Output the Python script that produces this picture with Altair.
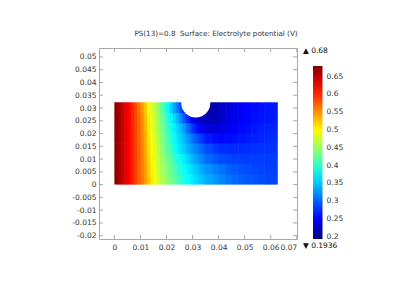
import math
import altair as alt
import pandas as pd

# ---------------- data ----------------
title_text = "PS(13)=0.8\u00a0 Surface: Electrolyte potential (V)"
x_ticks = [0, 0.01, 0.02, 0.03, 0.04, 0.05, 0.06, 0.07]
y_ticks = [-0.02, -0.015, -0.01, -0.005, 0, 0.005, 0.01, 0.015, 0.02,
           0.025, 0.03, 0.035, 0.04, 0.045, 0.05]
legend_ticks = [0.2, 0.25, 0.3, 0.35, 0.4, 0.45, 0.5, 0.55, 0.6, 0.65]
v_max = 0.68
v_min = 0.1936

# cell edges of the sampled grid (m): fine where the field changes fast
x_edges = [0.0, 0.00125, 0.0025, 0.00375, 0.005, 0.00625, 0.0075, 0.00875,
           0.01, 0.01125, 0.0125, 0.01375, 0.015, 0.01625, 0.0175, 0.01875,
           0.02, 0.02125, 0.0225, 0.02375, 0.025, 0.02625, 0.0275, 0.02875,
           0.03, 0.03125, 0.0325, 0.03375, 0.035,
           0.0375, 0.04, 0.0425, 0.045, 0.0475, 0.05, 0.0525, 0.055, 0.0575,
           0.06, 0.0625]
y_edges = [0.0, 0.004, 0.008, 0.012, 0.016, 0.020, 0.024, 0.028, 0.032]

# electrolyte potential (V), bottom row first, left to right (39 cells per row)
row_0 = [0.674, 0.661, 0.647, 0.633, 0.620, 0.606, 0.591, 0.576, 0.561, 0.544,
         0.525, 0.508, 0.492, 0.477, 0.463, 0.452, 0.442, 0.432, 0.421, 0.410,
         0.399, 0.389, 0.380, 0.372, 0.364, 0.357, 0.350, 0.344,
         0.336, 0.327, 0.318, 0.311, 0.305, 0.300, 0.296, 0.293, 0.290, 0.288, 0.287]
row_1 = [0.674, 0.661, 0.647, 0.633, 0.620, 0.606, 0.591, 0.575, 0.560, 0.543,
         0.523, 0.505, 0.488, 0.472, 0.458, 0.447, 0.436, 0.425, 0.413, 0.401,
         0.390, 0.380, 0.371, 0.362, 0.354, 0.346, 0.339, 0.332,
         0.325, 0.316, 0.308, 0.302, 0.297, 0.293, 0.290, 0.288, 0.287, 0.286, 0.285]
row_2 = [0.674, 0.661, 0.647, 0.633, 0.619, 0.605, 0.590, 0.574, 0.558, 0.540,
         0.520, 0.502, 0.485, 0.469, 0.454, 0.441, 0.428, 0.415, 0.401, 0.389,
         0.378, 0.367, 0.357, 0.347, 0.338, 0.329, 0.321, 0.313,
         0.305, 0.296, 0.290, 0.287, 0.285, 0.284, 0.283, 0.283, 0.283, 0.283, 0.283]
row_3 = [0.674, 0.661, 0.647, 0.633, 0.619, 0.605, 0.590, 0.574, 0.557, 0.538,
         0.517, 0.498, 0.481, 0.465, 0.448, 0.432, 0.417, 0.402, 0.386, 0.372,
         0.361, 0.351, 0.341, 0.331, 0.322, 0.314, 0.306, 0.298,
         0.290, 0.281, 0.276, 0.274, 0.274, 0.275, 0.276, 0.277, 0.278, 0.279, 0.279]
row_4 = [0.674, 0.661, 0.646, 0.632, 0.619, 0.604, 0.589, 0.572, 0.555, 0.536,
         0.513, 0.494, 0.477, 0.460, 0.443, 0.426, 0.410, 0.394, 0.378, 0.364,
         0.353, 0.341, 0.330, 0.317, 0.304, 0.293, 0.283, 0.274,
         0.266, 0.259, 0.257, 0.258, 0.261, 0.264, 0.267, 0.270, 0.272, 0.274, 0.275]
row_5 = [0.674, 0.661, 0.646, 0.632, 0.618, 0.603, 0.588, 0.571, 0.554, 0.533,
         0.509, 0.489, 0.472, 0.455, 0.438, 0.420, 0.402, 0.385, 0.370, 0.355,
         0.343, 0.327, 0.309, 0.291, 0.274, 0.260, 0.250, 0.243,
         0.238, 0.236, 0.240, 0.246, 0.252, 0.257, 0.261, 0.265, 0.268, 0.270, 0.271]
row_6 = [0.674, 0.661, 0.645, 0.631, 0.618, 0.603, 0.587, 0.570, 0.552, 0.530,
         0.506, 0.485, 0.468, 0.451, 0.433, 0.414, 0.394, 0.374, 0.357, 0.340,
         0.318, 0.295, 0.275, 0.258, 0.242, 0.232, 0.227, 0.224,
         0.222, 0.222, 0.230, 0.238, 0.245, 0.251, 0.256, 0.260, 0.263, 0.265, 0.266]
row_7 = [0.674, 0.661, 0.645, 0.631, 0.618, 0.602, 0.586, 0.566, 0.545, 0.524,
         0.500, 0.480, 0.464, 0.446, 0.424, 0.401, 0.378, 0.354, 0.333, 0.312,
         0.290, 0.260, 0.230, 0.210, 0.200, 0.200, 0.205, 0.210,
         0.212, 0.218, 0.228, 0.237, 0.244, 0.250, 0.255, 0.259, 0.262, 0.264, 0.265]
potential_rows = [row_0, row_1, row_2, row_3, row_4, row_5, row_6, row_7]

# semicircular cut in the top edge
hole_x = 0.03124
hole_y = 0.032
hole_r = 0.0063

# ---------------- layout ----------------
W, H = 198, 191
X_DOM = [-0.0059, 0.0701]
Y_DOM = [-0.0213, 0.0535]
FONT = "DejaVu Sans"
FRAME = "#a8a8a8"
TXT = "#333333"

records = []
for r, row in enumerate(potential_rows):
    for c, v in enumerate(row):
        records.append({"x0": x_edges[c], "x1": x_edges[c + 1],
                        "y0": y_edges[r], "y1": y_edges[r + 1], "v": v})
field_df = pd.DataFrame(records)

xs = alt.Scale(domain=X_DOM, nice=False, zero=False)
ys = alt.Scale(domain=Y_DOM, nice=False, zero=False)
xaxis = alt.Axis(values=x_ticks, labelExpr="'' + datum.value", ticks=False, domain=False,
                 grid=False, labelFontSize=7.5, labelColor=TXT, labelPadding=4,
                 labelFont=FONT, title=None)
yaxis = alt.Axis(values=y_ticks, labelExpr="'' + datum.value", ticks=False, domain=False,
                 grid=False, labelFontSize=7.5, labelColor=TXT, labelPadding=3,
                 labelFont=FONT, title=None, labelOverlap=False)

jet = ["#00007f", "#0000ff", "#007fff", "#00ffff", "#7fff7f",
       "#ffff00", "#ff7f00", "#ff0000", "#7f0000"]
cscale = alt.Scale(domain=[v_min, v_max], range=jet, interpolate="rgb", clamp=True)

heat = alt.Chart(field_df).mark_rect(x2Offset=0.6, y2Offset=-0.6).encode(
    x=alt.X("x0:Q", scale=xs, axis=xaxis),
    x2="x1:Q",
    y=alt.Y("y0:Q", scale=ys, axis=yaxis),
    y2="y1:Q",
    color=alt.Color("v:Q", scale=cscale, legend=alt.Legend(
        type="gradient", orient="none", legendX=214, legendY=18, direction="vertical",
        gradientLength=173, gradientThickness=9.5, title=None,
        values=legend_ticks, labelExpr="'' + datum.value", labelFontSize=7.5,
        labelOffset=4, labelOverlap=False, gradientStrokeWidth=0, labelFont=FONT,
        labelColor=TXT)),
)

px_per_unit = W / (X_DOM[1] - X_DOM[0])
hole_size = math.pi * (hole_r * px_per_unit) ** 2
hole = alt.Chart(pd.DataFrame({"hx": [hole_x], "hy": [hole_y]})).mark_circle(
    color="white", opacity=1, size=hole_size).encode(
    x=alt.X("hx:Q", scale=xs, axis=xaxis),
    y=alt.Y("hy:Q", scale=ys, axis=yaxis),
)

xt_df = pd.DataFrame({"t": x_ticks})
yt_df = pd.DataFrame({"t": y_ticks})
TL = 4
tick_x_bot = alt.Chart(xt_df).mark_rule(color=FRAME, strokeWidth=1).encode(
    x=alt.X("t:Q", scale=xs, axis=xaxis), y=alt.value(H), y2=alt.value(H - TL))
tick_x_top = alt.Chart(xt_df).mark_rule(color=FRAME, strokeWidth=1).encode(
    x=alt.X("t:Q", scale=xs, axis=xaxis), y=alt.value(0), y2=alt.value(TL))
tick_y_left = alt.Chart(yt_df).mark_rule(color=FRAME, strokeWidth=1).encode(
    y=alt.Y("t:Q", scale=ys, axis=yaxis), x=alt.value(0), x2=alt.value(TL))
tick_y_right = alt.Chart(yt_df).mark_rule(color=FRAME, strokeWidth=1).encode(
    y=alt.Y("t:Q", scale=ys, axis=yaxis), x=alt.value(W - TL), x2=alt.value(W))

title = alt.Chart(pd.DataFrame({"label": [title_text]})).mark_text(
    font=FONT, fontSize=7.2, color=TXT, align="center", baseline="middle").encode(
    text="label:N", x=alt.value(117), y=alt.value(-14))

max_lbl = alt.Chart(pd.DataFrame({"label": ["\u25b2 " + str(v_max)]})).mark_text(
    font=FONT, fontSize=7.5, color="#111111", align="left", baseline="middle").encode(
    text="label:N", x=alt.value(204), y=alt.value(3))
min_lbl = alt.Chart(pd.DataFrame({"label": ["\u25bc " + str(v_min)]})).mark_text(
    font=FONT, fontSize=7.5, color="#111111", align="left", baseline="middle").encode(
    text="label:N", x=alt.value(204), y=alt.value(198))

chart = alt.layer(
    heat, hole, tick_x_bot, tick_x_top, tick_y_left, tick_y_right,
    title, max_lbl, min_lbl
).properties(
    width=W, height=H,
    padding={"left": 99, "top": 48, "right": 123, "bottom": 51},
    autosize=alt.AutoSizeParams(type="none"),
    background="white",
).configure_view(stroke=FRAME, strokeWidth=1)

chart.save("out.html", embed_options={"renderer": "svg", "actions": False})
